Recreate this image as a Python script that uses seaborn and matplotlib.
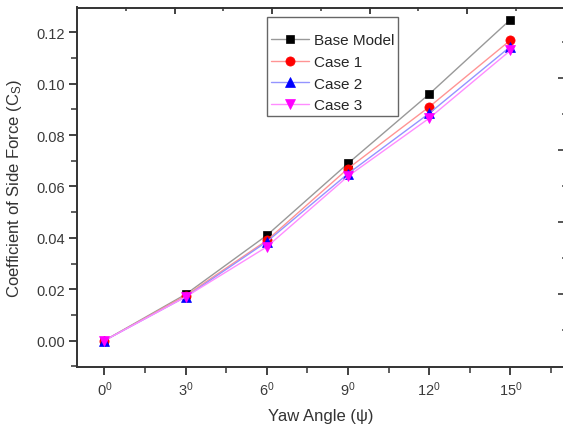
import matplotlib
matplotlib.use("Agg")
import matplotlib.pyplot as plt
import seaborn as sns
import numpy as np
import pandas as pd
from matplotlib.ticker import MultipleLocator, FixedLocator, NullFormatter

yaw = [0, 3, 6, 9, 12, 15]
base_model = [0.0, 0.018, 0.041, 0.069, 0.096, 0.125]
case1 = [0.0, 0.0175, 0.039, 0.067, 0.091, 0.117]
case2 = [0.0, 0.017, 0.0385, 0.065, 0.0885, 0.1145]
case3 = [0.0, 0.017, 0.0365, 0.064, 0.0866, 0.113]
series_names = ["Base Model", "Case 1", "Case 2", "Case 3"]
xtick_labels = [r"$0^0$", r"$3^0$", r"$6^0$", r"$9^0$", r"$12^0$", r"$15^0$"]
ytick_values = [0.0, 0.02, 0.04, 0.06, 0.08, 0.10, 0.12]
ytick_labels = ["0.00", "0.02", "0.04", "0.06", "0.08", "0.10", "0.12"]

# decorative (unlabelled) opposite-axis tick positions
top_major = [2.59, 6.2, 9.8, 13.41]
top_minor = [0.78, 4.39, 8.0, 11.6, 15.2]
right_major = [0.1024, 0.0743, 0.0463, 0.0182]
right_minor = [0.1164, 0.0883, 0.0602, 0.0322, 0.0041]

sns.set_style("ticks")
plt.rcParams["font.family"] = ["Liberation Sans", "DejaVu Sans"]
plt.rcParams["mathtext.fontset"] = "custom"
plt.rcParams["mathtext.rm"] = "Liberation Sans"
plt.rcParams["mathtext.it"] = "Liberation Sans"
plt.rcParams["mathtext.bf"] = "Liberation Sans"

fig = plt.figure(figsize=(5.63, 4.27), dpi=100)
ax = fig.add_axes([77.4/563, 1-368/427, (564.6-77.4)/563, (368-8.5)/427])

styles = [
    (base_model, "#999999", "black", "s", 5.8),
    (case1, "#ff9494", "red", "o", 6.6),
    (case2, "#9494ff", "blue", "^", 6.8),
    (case3, "#ff8cff", "magenta", "v", 6.8),
]
for name, (vals, lc, mc, mk, ms) in zip(series_names, styles):
    sns.lineplot(x=yaw, y=vals, ax=ax, color=lc, linewidth=1.0, marker=mk,
                 markersize=ms, markerfacecolor=mc, markeredgecolor=mc,
                 markeredgewidth=0.5, label=name)

ax.set_xlim(-1, 17)
ax.set_ylim(-0.0103, 0.1297)
ax.set_xticks(yaw)
ax.set_xticklabels(xtick_labels)
ax.xaxis.set_minor_locator(MultipleLocator(1.5))
ax.set_yticks(ytick_values)
ax.set_yticklabels(ytick_labels)
ax.yaxis.set_minor_locator(MultipleLocator(0.01))

ax.tick_params(which="major", direction="out", length=5.5, width=1.3,
               labelsize=10.5, colors="#333333", labelcolor="#3a3a3a")
ax.tick_params(which="minor", direction="out", length=4, width=1.1, colors="#333333")
ax.tick_params(which="both", top=False, right=False)

for spine in ax.spines.values():
    spine.set_linewidth(1.4)
    spine.set_color("#333333")

# top: inward decorative ticks
tx = ax.twiny()
tx.set_xlim(ax.get_xlim())
tx.xaxis.set_major_locator(FixedLocator(top_major))
tx.xaxis.set_minor_locator(FixedLocator(top_minor))
tx.xaxis.set_major_formatter(NullFormatter())
tx.tick_params(axis="x", which="major", top=True, bottom=False, direction="in",
               length=5, width=1.3, colors="#333333", labeltop=False)
tx.tick_params(axis="x", which="minor", top=True, bottom=False, direction="in",
               length=3, width=1.1, colors="#333333")
for s in tx.spines.values():
    s.set_visible(False)

# right: inward decorative ticks
ty = ax.twinx()
ty.set_ylim(ax.get_ylim())
ty.yaxis.set_major_locator(FixedLocator(right_major))
ty.yaxis.set_minor_locator(FixedLocator(right_minor))
ty.yaxis.set_major_formatter(NullFormatter())
ty.tick_params(axis="y", which="major", right=True, left=False, direction="in",
               length=5, width=1.4, colors="#555555", labelright=False)
ty.tick_params(axis="y", which="minor", right=True, left=False, direction="in",
               length=2, width=1.2, colors="#555555")
for s in ty.spines.values():
    s.set_visible(False)

ax.set_xlabel("Yaw Angle (ψ)", fontsize=12, color="#333333", labelpad=7)
ax.set_ylabel("Coefficient of Side Force (C$_\\mathregular{S}$)", fontsize=12,
              color="#333333", labelpad=9)

leg = ax.legend(loc="upper left", bbox_to_anchor=(0.389, 0.9736), fontsize=11,
                frameon=True, fancybox=False, edgecolor="#666666",
                handlelength=2.5, labelspacing=0.5, borderpad=0.25,
                handletextpad=0.33, borderaxespad=0,
                title=" ", title_fontsize=4)
leg.get_frame().set_linewidth(1.0)
leg.get_frame().set_alpha(1)

fig.savefig("out.png", dpi=100)
